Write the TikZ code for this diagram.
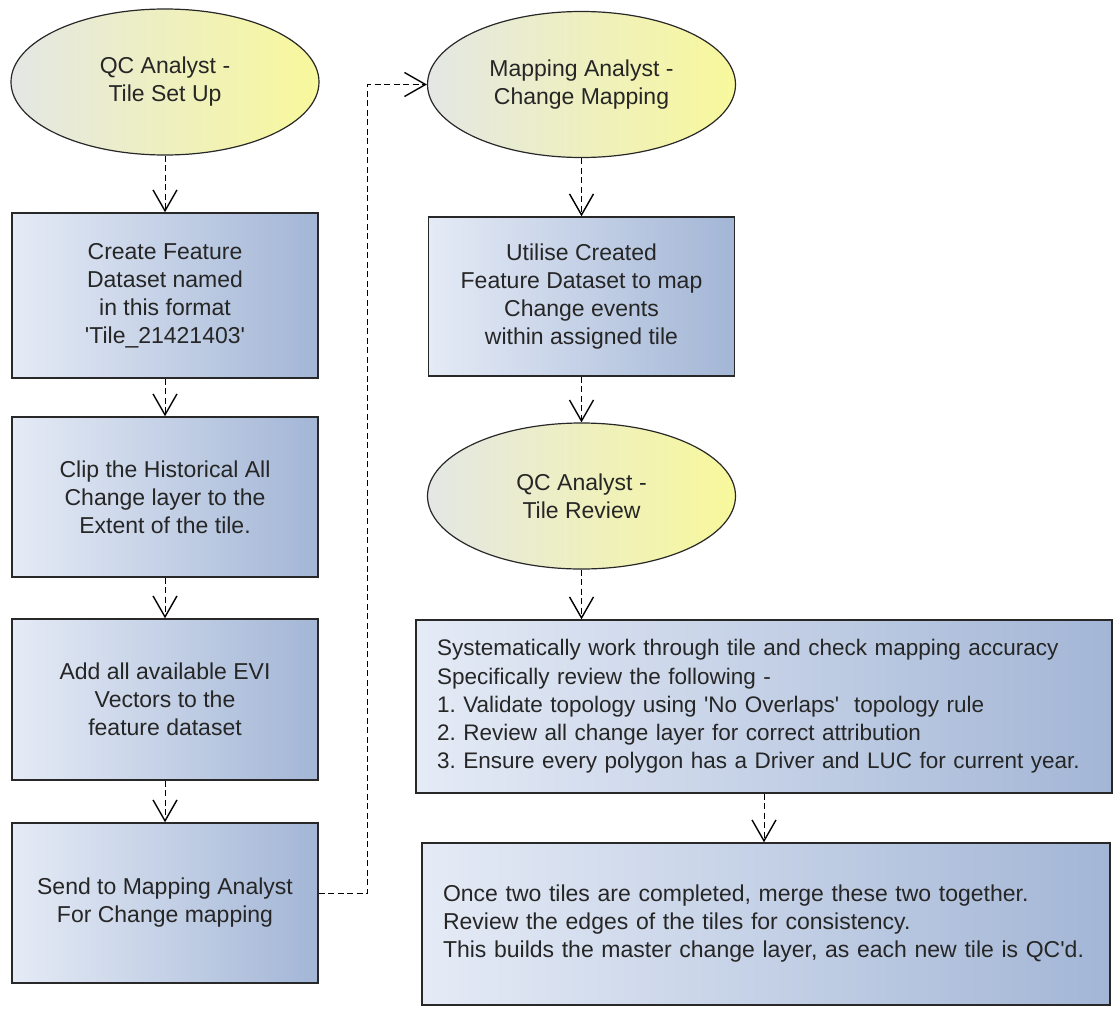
\documentclass[tikz,border=0pt]{standalone}
\usepackage{fontspec}
\setmainfont{Liberation Sans}
\usepackage{xcolor}
\usetikzlibrary{arrows.meta,shapes.geometric}
\definecolor{boxlight}{RGB}{229,235,246}
\definecolor{boxdark}{RGB}{163,182,214}
\definecolor{rolelight}{RGB}{228,231,228}
\definecolor{roledark}{RGB}{248,248,156}
\definecolor{edgegrey}{RGB}{40,40,40}
\frenchspacing

\begin{document}
\begin{tikzpicture}[x=1pt,y=-1pt,font=\fontsize{23}{28}\selectfont,
  task/.style={draw=edgegrey,line width=1.4pt,left color=boxlight,right color=boxdark,
    minimum width=306pt,inner sep=0pt,align=center,text=black!85},
  notebox/.style={draw=edgegrey,line width=1.4pt,left color=boxlight,right color=boxdark,
    align=left,inner ysep=0pt,text=black!85},
  role/.style={ellipse,draw=edgegrey,line width=1.2pt,left color=rolelight,right color=roledark,
    minimum width=308pt,minimum height=146pt,inner sep=0pt,align=center,text=black!85},
  flow/.style={dash pattern=on 6pt off 3.5pt,line width=1pt,
    -{Straight Barb[length=21pt,width=24pt,line width=1.4pt]}}]
  \path[use as bounding box,fill=white] (0,0) rectangle (1115,1009);

  % left column
  \node[role] (qcset) at (165,82) {QC Analyst -\\Tile Set Up};
  \node[task,minimum height=165pt] (create) at (165,295.5)
    {Create Feature\\Dataset named\\in this format\\\textquotesingle Tile\_21421403\textquotesingle};
  \node[task,minimum height=160pt] (clip) at (165,497)
    {Clip the Historical All\\Change layer to the\\Extent of the tile.};
  \node[task,minimum height=161pt] (addevi) at (165,699.5)
    {Add all available EVI\\Vectors to the\\feature dataset};
  \node[task,minimum height=160pt] (send) at (165,903)
    {Send to Mapping Analyst\\For Change mapping};

  % right column
  \node[role] (mapan) at (581.5,84.5) {Mapping Analyst -\\Change Mapping};
  \node[task,minimum height=159pt] (utilise) at (581.5,296.5)
    {Utilise Created\\Feature Dataset to map\\Change events\\within assigned tile};
  \node[role] (qcrev) at (581.5,496) {QC Analyst -\\Tile Review};
  \node[notebox,font=\fontsize{22.5}{28.3}\selectfont,text width=654pt,inner xsep=21pt,
    minimum height=173pt] (review) at (764,706.5)
    {Systematically work through tile and check mapping accuracy\\
     Specifically review the following -\\
     1. Validate topology using \textquotesingle No Overlaps\textquotesingle\ \ topology rule\\
     2. Review all change layer for correct attribution\\
     3. Ensure every polygon has a Driver and LUC for current year.};
  \node[notebox,text width=646pt,inner xsep=21pt,minimum height=162pt] (merge) at (766,924)
    {Once two tiles are completed, merge these two together.\\
     Review the edges of the tiles for consistency.\\
     This builds the master change layer, as each new tile is QC\textquotesingle d.};

  % connectors
  \draw[flow] (qcset) -- (create);
  \draw[flow] (create) -- (clip);
  \draw[flow] (clip) -- (addevi);
  \draw[flow] (addevi) -- (send);
  \draw[flow] ([yshift=10pt]send.east) -- ++(49,0) |- (mapan.west);
  \draw[flow] (mapan) -- (utilise);
  \draw[flow] (utilise) -- (qcrev);
  \draw[flow] (qcrev.south) -- (qcrev.south |- review.north);
  \draw[flow] (review.south) -- (review.south |- merge.north);
\end{tikzpicture}
\end{document}
